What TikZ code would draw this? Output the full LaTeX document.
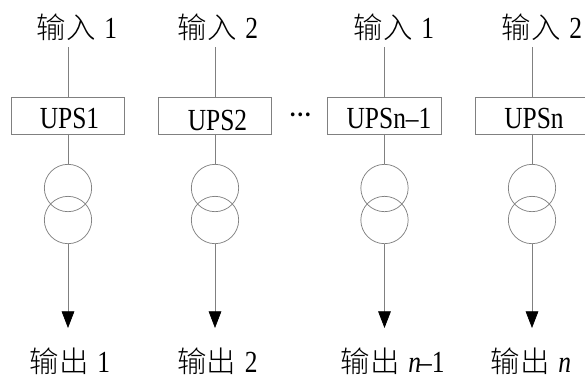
\documentclass[tikz,border=0pt]{standalone}
\usepackage{fontspec}
\usetikzlibrary{arrows.meta}
\setmainfont{Liberation Serif}[FakeStretch=0.83]
\newfontfamily\cjk[Scale=0.96]{Noto Sans CJK SC Light}
\newfontfamily\cjkdots{Noto Sans CJK SC Bold}
\newcommand{\zh}[1]{{\cjk #1}\hspace{6.5pt}}

\begin{document}
\begin{tikzpicture}[x=0.75pt,y=-0.75pt,
    wire/.style={draw=black!50,line width=0.55pt},
    ups/.style={wire,minimum width=85pt,minimum height=27.7pt,inner sep=0pt,outer sep=0pt},
    coil/.style={wire,circle,minimum size=35.5pt,inner sep=0pt,outer sep=0pt},
    lab/.style={anchor=base west,inner sep=0pt,text height=18pt,text depth=6.4pt,font=\fontsize{23}{26}\selectfont},
    outlab/.style={anchor=base west,inner sep=0pt,text height=18pt,text depth=0pt,font=\fontsize{23}{26}\selectfont},
    upsname/.style={font=\fontsize{23}{26}\selectfont},
    outline/.style={wire,-{Triangle[length=12.5pt,width=9.5pt,black]}}]
    \useasboundingbox (0,0) rectangle (585,376);
    % inputs
    \node[lab] (in1) at (36.5,38.5) {\zh{输入}1};
    \node[lab] (in2) at (177.5,38.5) {\zh{输入}2};
    \node[lab] (in3) at (353.5,38.5) {\zh{输入}1};
    \node[lab] (in4) at (501.5,38.5) {\zh{输入}2};
    % ups boxes
    \node[ups] (box1) at (68,115.5) {};
    \node[ups] (box2) at (215,115.5) {};
    \node[ups] (box3) at (384.5,115.5) {};
    \node[ups] (box4) at (532,115.5) {};
    \node[upsname] (ups1) at (69.5,118) {UPS1};
    \node[upsname] (ups2) at (217.5,120) {UPS2};
    \node[upsname] (ups3) at (389,118) {UPSn--1};
    \node[upsname] (ups4) at (534,118) {UPSn};
    \node[font=\fontsize{15}{18}\cjkdots] (dots) at (301,115) {…};
    % transformers
    \node[coil] (up1) at (68,188) {};
    \node[coil] (low1) at (68,220) {};
    \node[coil] (up2) at (215,188) {};
    \node[coil] (low2) at (215,220) {};
    \node[coil] (up3) at (384.5,188) {};
    \node[coil] (low3) at (384.5,220) {};
    \node[coil] (up4) at (532,188) {};
    \node[coil] (low4) at (532,220) {};
    % outputs
    \node[outlab] (out1) at (29.5,372.5) {\zh{输出}1};
    \node[outlab] (out2) at (177,372.5) {\zh{输出}2};
    \node[outlab] (out3) at (340.5,372.5) {\zh{输出}{\itshape n}\hspace{-1.5pt}--1};
    \node[outlab] (out4) at (490.5,372.5) {\zh{输出}{\itshape n}};
    \coordinate (end1) at (68,328);
    \coordinate (end2) at (215,328);
    \coordinate (end3) at (384.5,328);
    \coordinate (end4) at (532,328);
    % connectors
    \draw[wire] (box1 |- in1.south) -- (box1.north);
    \draw[wire] (box2 |- in2.south) -- (box2.north);
    \draw[wire] (box3 |- in3.south) -- (box3.north);
    \draw[wire] (box4 |- in4.south) -- (box4.north);
    \draw[wire] (box1.south) -- (up1.north);
    \draw[wire] (box2.south) -- (up2.north);
    \draw[wire] (box3.south) -- (up3.north);
    \draw[wire] (box4.south) -- (up4.north);
    \draw[outline] (low1.south) -- (end1);
    \draw[outline] (low2.south) -- (end2);
    \draw[outline] (low3.south) -- (end3);
    \draw[outline] (low4.south) -- (end4);
\end{tikzpicture}
\end{document}
